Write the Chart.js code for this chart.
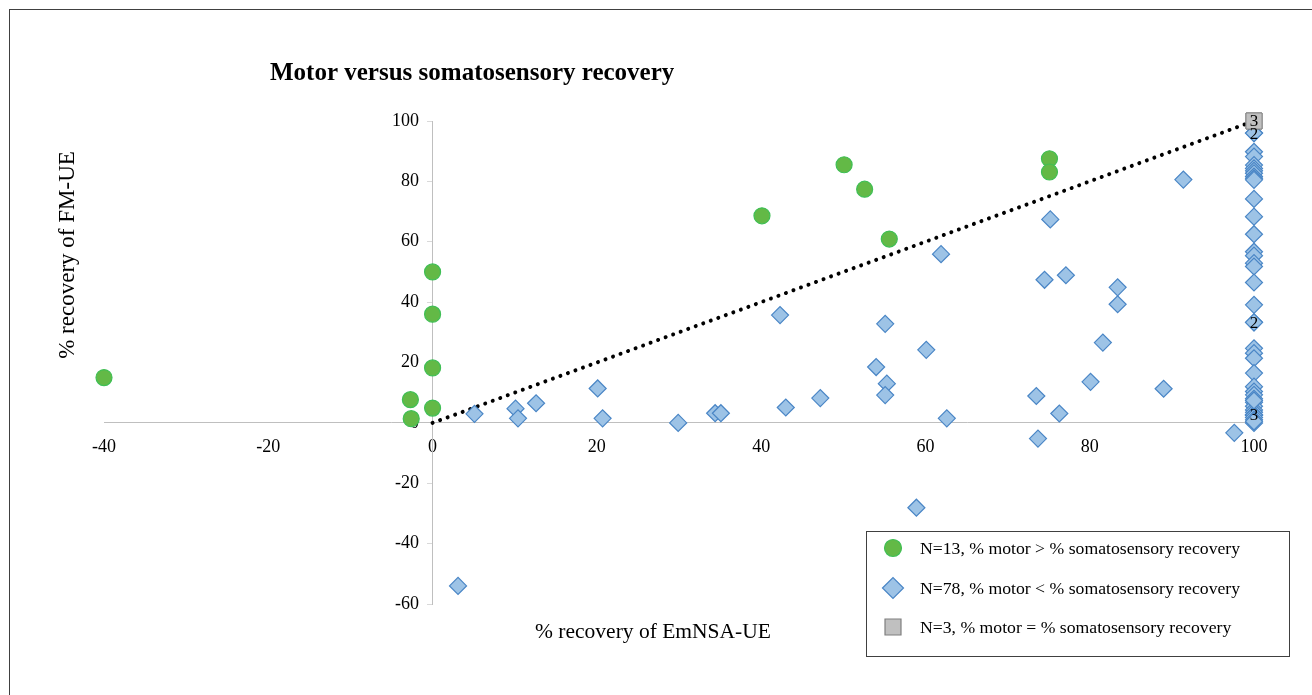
<!DOCTYPE html>
<html>
<head>
<meta charset="utf-8">
<title>Motor versus somatosensory recovery</title>
<script src="https://cdn.jsdelivr.net/npm/chart.js@4.4.1/dist/chart.umd.min.js"></script>
<style>
  html, body { margin: 0; padding: 0; background: #fff; }
  #wrap { width: 1312px; height: 695px; }
</style>
</head>
<body>
<div id="wrap"><canvas id="scatter" width="1312" height="695"></canvas></div>
<script>
"use strict";

// % motor > % somatosensory recovery (N=13)
const greenX = [-40, -2.7, -2.6, 0, 0, 0, 0, 40.1, 50.1, 52.6, 55.6, 75.1, 75.1];
const greenY = [15, 7.7, 1.4, 50, 36, 18.2, 4.9, 68.6, 85.5, 77.4, 60.9, 87.5, 83.1];

// % motor < % somatosensory recovery (N=78)
const blueX = [
  5.1, 10.1, 10.4, 12.6, 20.1, 20.7, 29.9, 34.4, 35.1, 42.3, 43.0, 47.2,
  55.1, 54.0, 55.3, 55.1, 60.1, 61.9, 62.6, 75.2, 74.5, 77.1, 83.4, 83.4,
  81.6, 80.1, 73.5, 76.3, 73.7, 89.0, 91.4, 97.6, 58.9, 3.1,
  100, 100, 100, 100, 100, 100, 100, 100, 100, 100, 100, 100, 100, 100,
  100, 100, 100, 100, 100, 100, 100, 100, 100, 100, 100, 100, 100, 100,
  100, 100, 100, 100, 100, 100, 100, 100, 100, 100, 100, 100, 100, 100
];
const blueY = [
  3.0, 4.7, 1.5, 6.5, 11.4, 1.5, 0, 3.2, 3.2, 35.7, 5.1, 8.2,
  32.8, 18.5, 13.0, 9.2, 24.2, 55.9, 1.5, 67.4, 47.4, 48.9, 44.9, 39.3,
  26.6, 13.6, 8.9, 3.1, -5.2, 11.3, 80.6, -3.3, -28.1, -54.0,
  96, 96, 89.8, 88.2, 85.4, 84.3, 83.5, 82.7, 81.6, 81.0, 80.5, 74.2, 68.3, 62.5,
  56.7, 55.4, 52.9, 51.8, 46.5, 39.1, 33.3, 33.3, 24.7, 23.1, 21.4, 16.5, 12.0, 10.4,
  9.3, 8.0, 6.8, 5.5, 4.3, 3.5, 2.6, 2.6, 2.6, 1.8, 1.0, 0, 0.5, 7.4
];

// % motor = % somatosensory recovery (N=3)
const grayX = [100, 100, 100];
const grayY = [100, 100, 100];

// line of equal recovery
const equalX = [0, 100];
const equalY = [0, 100];

const xTicks = [-40, -20, 0, 20, 40, 60, 80, 100];
const yTicks = [-60, -40, -20, 0, 20, 40, 60, 80, 100];

const legendLabels = [
  "N=13, % motor > % somatosensory recovery",
  "N=78, % motor < % somatosensory recovery",
  "N=3, % motor = % somatosensory recovery"
];

const toPoints = (xs, ys) => xs.map((x, i) => ({ x: x, y: ys[i] }));

const SERIF = "'Liberation Serif', 'Times New Roman', serif";

const green = { fill: "#63b946", line: "#3fbf55" };
const blue = { fill: "#9dc3e6", line: "#4a86c6" };
const gray = { fill: "#c0c0c0", line: "#7f7f7f" };

// frame, titles, legend and counts of stacked points
const decorations = {
  id: "decorations",
  afterDatasetsDraw(chart) {
    const ctx = chart.ctx;
    ctx.save();
    ctx.fillStyle = "#000";
    ctx.textBaseline = "middle";

    // counts where several points sit on the same spot
    ctx.font = "17px " + SERIF;
    ctx.textAlign = "center";
    chart.data.datasets.forEach((ds, di) => {
      if (!ds.countLabels) return;
      const meta = chart.getDatasetMeta(di);
      const seen = {};
      ds.data.forEach((p, i) => {
        const key = p.x + "|" + p.y;
        if (!seen[key]) seen[key] = { n: 0, el: meta.data[i] };
        seen[key].n++;
      });
      Object.values(seen).forEach(s => {
        if (s.n > 1) ctx.fillText(String(s.n), s.el.x, s.el.y + 1);
      });
    });
    ctx.restore();
  },
  afterDraw(chart) {
    const ctx = chart.ctx;
    ctx.save();

    // outer frame
    ctx.strokeStyle = "#404040";
    ctx.lineWidth = 1;
    ctx.strokeRect(9.5, 9.5, 1310, 700);

    ctx.fillStyle = "#000";
    ctx.textBaseline = "middle";

    ctx.font = "bold 25px " + SERIF;
    ctx.textAlign = "left";
    ctx.fillText("Motor versus somatosensory recovery", 270, 74);

    ctx.font = "21.5px " + SERIF;
    ctx.textAlign = "center";
    ctx.fillText("% recovery of EmNSA-UE", 653, 632);

    ctx.save();
    ctx.font = "23px " + SERIF;
    ctx.translate(68, 255);
    ctx.rotate(-Math.PI / 2);
    ctx.fillText("% recovery of FM-UE", 0, 0);
    ctx.restore();

    // legend
    ctx.strokeStyle = "#404040";
    ctx.strokeRect(866.5, 531.5, 423, 125);
    const rows = [548, 588, 627];
    const styles = [
      { style: "circle", radius: 8.5, c: green },
      { style: "rectRot", radius: 10.5, c: blue },
      { style: "rect", radius: 11.3, c: gray }
    ];
    ctx.font = "17.7px " + SERIF;
    ctx.textAlign = "left";
    rows.forEach((y, i) => {
      const s = styles[i];
      ctx.fillStyle = s.c.fill;
      ctx.strokeStyle = s.c.line;
      ctx.lineWidth = i === 2 ? 0 : 1.2;
      Chart.helpers.drawPoint(ctx, { pointStyle: s.style, radius: s.radius, borderWidth: ctx.lineWidth, rotation: 0 }, 893, y);
      ctx.fillStyle = "#000";
      ctx.fillText(legendLabels[i], 920, y + 1);
    });

    ctx.restore();
  }
};

new Chart(document.getElementById("scatter").getContext("2d"), {
  type: "scatter",
  data: {
    datasets: [
      {
        label: legendLabels[2],
        data: toPoints(grayX, grayY),
        pointStyle: "rect",
        pointRadius: 11.3,
        backgroundColor: gray.fill,
        borderColor: gray.line,
        borderWidth: 0.8,
        countLabels: true,
        clip: false,
        order: 0
      },
      {
        label: legendLabels[0],
        data: toPoints(greenX, greenY),
        pointStyle: "circle",
        pointRadius: 8,
        backgroundColor: green.fill,
        borderColor: green.line,
        borderWidth: 1.2,
        clip: false,
        order: 1
      },
      {
        label: legendLabels[1],
        data: toPoints(blueX, blueY),
        pointStyle: "rectRot",
        pointRadius: 8.5,
        backgroundColor: blue.fill,
        borderColor: blue.line,
        borderWidth: 1.2,
        countLabels: true,
        clip: false,
        order: 2
      },
      {
        type: "line",
        label: "equal",
        data: toPoints(equalX, equalY),
        borderColor: "#000",
        borderWidth: 4,
        borderDash: [0.01, 8],
        borderCapStyle: "round",
        pointRadius: 0,
        fill: false,
        clip: false,
        order: 3
      }
    ]
  },
  options: {
    responsive: false,
    animation: false,
    layout: { padding: { left: 104, right: 58, top: 121, bottom: 91 } },
    plugins: {
      legend: { display: false },
      title: { display: false },
      tooltip: { enabled: false }
    },
    scales: {
      x: {
        type: "linear",
        min: -40,
        max: 100,
        position: { y: 0 },
        afterBuildTicks: s => { s.ticks = xTicks.map(v => ({ value: v })); },
        grid: { drawOnChartArea: false, drawTicks: false },
        border: { color: "#bfbfbf", width: 1 },
        ticks: { color: "#000", padding: 14, font: { family: SERIF, size: 18 } }
      },
      y: {
        type: "linear",
        min: -60,
        max: 100,
        position: { x: 0 },
        afterBuildTicks: s => { s.ticks = yTicks.map(v => ({ value: v })); },
        grid: { drawOnChartArea: false, drawTicks: true, tickLength: 5, color: "#d9d9d9" },
        border: { color: "#bfbfbf", width: 1 },
        // labels of an axis placed at x = 0 sit right on the line, so pad them with spaces
        ticks: {
          color: "#000",
          font: { family: SERIF, size: 18 },
          callback: v => v + "\u00a0\u00a0\u00a0"
        }
      }
    }
  },
  plugins: [decorations]
});
</script>
</body>
</html>
